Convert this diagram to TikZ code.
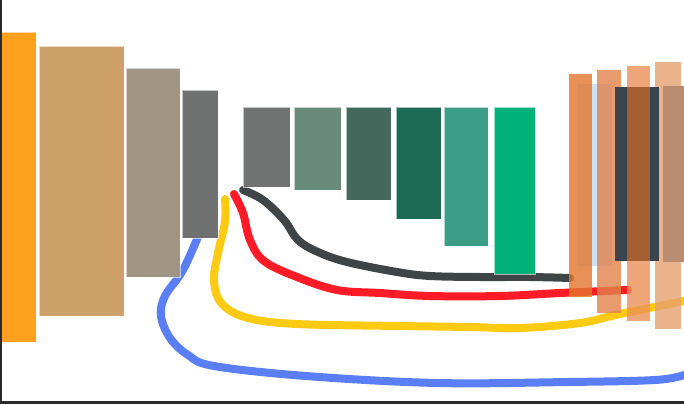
\documentclass[tikz,border=0pt]{standalone}
\usetikzlibrary{calc}
\definecolor{cA}{HTML}{FFA11F}
\definecolor{cB}{HTML}{CDA06A}
\definecolor{cC}{HTML}{A09483}
\definecolor{cD}{HTML}{6F7270}
\definecolor{cE}{HTML}{707371}
\definecolor{cF}{HTML}{6A8A7C}
\definecolor{cG}{HTML}{44685C}
\definecolor{cH}{HTML}{1D6B55}
\definecolor{cI}{HTML}{3C9E86}
\definecolor{cJ}{HTML}{00B277}
\definecolor{lblue}{HTML}{CFE0F0}
\definecolor{barA}{HTML}{E2762F}
\definecolor{barB}{HTML}{E2824A}
\definecolor{barC}{HTML}{EC9257}
\definecolor{barD}{HTML}{E6A070}
\definecolor{darkr}{HTML}{3D434A}
\definecolor{brownr}{HTML}{A55E30}
\definecolor{greybr}{HTML}{B98B6F}
\definecolor{kcurve}{HTML}{3F4446}
\definecolor{rcurve}{HTML}{FF1C26}
\definecolor{ycurve}{HTML}{FFCA12}
\definecolor{bcurve}{HTML}{5A7EF5}
\definecolor{frame}{HTML}{2A2A2A}
\tikzset{
  blockbox/.style={draw=white,draw opacity=0.6,line width=0.8pt},
  barbox/.style={fill opacity=0.8},
  wire/.style={line width=8pt,line cap=round,line join=round}
}
\begin{document}
\begin{tikzpicture}[x=1pt,y=-1pt]
\useasboundingbox (0,0) rectangle (684,404);
\fill[white] (0,0) rectangle (684,404);
% curves
\draw[wire,bcurve] plot[smooth,tension=0.6] coordinates {(200,232) (183,270) (165,296) (161,316) (170,338) (188,355) (214,366) (306,376) (437,383) (568,382) (655,380) (684,375)};
\draw[wire,ycurve] plot[smooth,tension=0.6] coordinates {(225,199) (225,222) (218,253) (214,281) (222,304) (248,318) (297,324) (400,326) (470,327) (520,328) (580,323) (620,314) (684,301)};
\draw[wire,rcurve] plot[smooth,tension=0.6] coordinates {(234,194) (243,213) (250,240) (264,261) (297,277) (337,290) (380,293) (430,296) (500,296) (560,293) (628,290)};
\draw[wire,kcurve] plot[smooth,tension=0.6] coordinates {(243,190) (263,200) (284,220) (298,240) (318,252) (347,262) (397,272) (430,276) (480,277) (530,277) (570,278)};
% left blocks
\fill[blockbox,fill=cA] (1,32) rectangle (36,342);
\fill[blockbox,fill=cB] (39,46) rectangle (124,316);
\fill[blockbox,fill=cC] (126,68) rectangle (180,277);
\fill[blockbox,fill=cD] (182,90) rectangle (218,238);
% green blocks
\fill[blockbox,fill=cE] (243,107) rectangle (290,187);
\fill[blockbox,fill=cF] (294,107) rectangle (341,190);
\fill[blockbox,fill=cG] (346,107) rectangle (391,200);
\fill[blockbox,fill=cH] (396,107) rectangle (441,219);
\fill[blockbox,fill=cI] (444,107) rectangle (488,246);
\fill[blockbox,fill=cJ] (494,107) rectangle (535,274);
% right cluster
\fill[lblue] (577,84) rectangle (612,266);
\fill[barbox,barA] (569,74) rectangle (592,297);
\fill[barbox,barB] (597,70) rectangle (621,313);
\fill[barbox,barD] (655,62) rectangle (681,329);
\fill[darkr] (615,87) rectangle (659,261);
\fill[barbox,barC] (627,66) rectangle (650,321);
\fill[brownr] (627,87) rectangle (650,261);
\fill[greybr] (663,86) rectangle (684,262);
% frame
\fill[frame] (0,0) rectangle (1.5,404);
\fill[frame] (0,401) rectangle (684,404);
\end{tikzpicture}
\end{document}
